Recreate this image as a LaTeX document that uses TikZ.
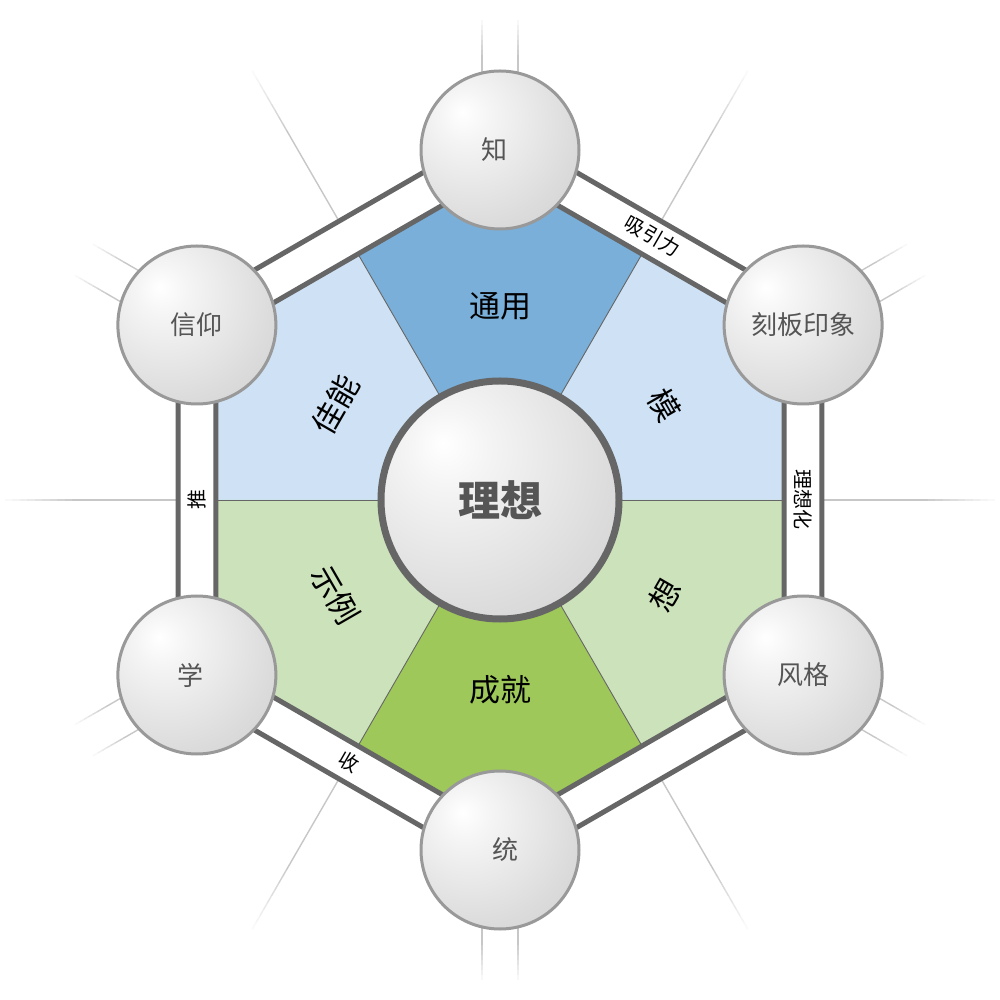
\documentclass[tikz,border=0pt]{standalone}
\usepackage{fontspec}
\newfontfamily\cjk{Noto Sans CJK SC}
\definecolor{hexline}{RGB}{102,102,102}
\definecolor{dkblue}{RGB}{122,175,217}
\definecolor{ltblue}{RGB}{207,226,245}
\definecolor{ltgreen}{RGB}{204,226,186}
\definecolor{dkgreen}{RGB}{158,200,90}
\definecolor{ringgray}{RGB}{153,153,153}
\definecolor{labgray}{RGB}{85,85,85}
\pgfdeclareradialshading{ballshade}{\pgfpoint{-12bp}{12bp}}{%
  color(0bp)=(white); color(8bp)=(black!4); color(32bp)=(black!14);
  color(50bp)=(black!20); color(68bp)=(black!26); color(100bp)=(black!26)}
\tikzset{
  ball/.style={circle, minimum size=158pt, inner sep=0pt, shading=ballshade,
    draw=ringgray, line width=3pt, font=\cjk\fontsize{26}{28}\selectfont, text=labgray},
  hub/.style={circle, minimum size=238pt, inner sep=0pt, shading=ballshade,
    draw=hexline, line width=7pt, font=\cjk\bfseries\fontsize{42}{44}\selectfont, text=labgray},
  seclabel/.style={font=\cjk\fontsize{31}{33}\selectfont, text=black, inner sep=1pt},
  bandlabel/.style={font=\cjk\fontsize{20}{22}\selectfont, text=black, inner sep=1pt},
  hexedge/.style={draw=hexline, line width=5pt, line join=miter},
  divider/.style={draw=hexline, line width=0.9pt},
}
\begin{document}
\begin{tikzpicture}[x=1pt,y=1pt]
\fill[white] (-500,-500) rectangle (500,500);
\useasboundingbox (-500,-500) rectangle (500,500);
% background rays
\foreach \a in {0,60,...,300}{
  \begin{scope}[rotate=\a]
    \draw[line width=1.4pt, black!22] (320,0) -- (420,0);
    \foreach \i in {0,...,9}{
      \pgfmathsetmacro\ra{420+\i*7.5}
      \pgfmathsetmacro\rb{\ra+7.6}
      \pgfmathsetmacro\cc{22*(1-\i/10)}
      \draw[line width=1.4pt, black!\cc] (\ra,0) -- (\rb,0);
    }
  \end{scope}
}
\foreach \a in {30,90,...,330}{
  \begin{scope}[rotate=\a]
    \foreach \s in {-18,18}{
      \draw[line width=1.4pt, black!22] (400,\s) -- (440,\s);
      \foreach \i in {0,...,7}{
        \pgfmathsetmacro\ra{440+\i*5}
        \pgfmathsetmacro\rb{\ra+5.1}
        \pgfmathsetmacro\cc{22*(1-\i/8)}
        \draw[line width=1.4pt, black!\cc] (\ra,\s) -- (\rb,\s);
      }
    }
  \end{scope}
}
% sectors
\fill[ltblue]  (0,0) -- (0:284)   -- (30:327.95)  -- (60:284)  -- cycle;
\fill[dkblue]  (0,0) -- (60:284)  -- (90:327.95)  -- (120:284) -- cycle;
\fill[ltblue]  (0,0) -- (120:284) -- (150:327.95) -- (180:284) -- cycle;
\fill[ltgreen] (0,0) -- (180:284) -- (210:327.95) -- (240:284) -- cycle;
\fill[dkgreen] (0,0) -- (240:284) -- (270:327.95) -- (300:284) -- cycle;
\fill[ltgreen] (0,0) -- (300:284) -- (330:327.95) -- (360:284) -- cycle;
\foreach \a in {0,60,...,300}{\draw[divider] (0,0) -- (\a:284);}
% hexagon band
\draw[hexedge] (30:327.95) \foreach \a in {90,150,...,330}{ -- (\a:327.95)} -- cycle;
\draw[hexedge] (30:371.8) \foreach \a in {90,150,...,330}{ -- (\a:371.8)} -- cycle;
% hub and balls
\node[hub] (hub) at (0,0) {理想};
\node[ball] (zhi)  at (90:350)  {\hspace*{-12pt}知};
\node[ball] (kb)   at (30:350)  {刻板印象};
\node[ball] (fg)   at (-30:350) {风格};
\node[ball] (tong) at (-90:350) {\hspace*{10pt}统};
\node[ball] (xue)  at (-150:350) {\hspace*{-12pt}学};
\node[ball] (xy)   at (150:350) {信仰};
% sector labels
\node[seclabel, rotate=-60] (s1) at (30:190)  {模};
\node[seclabel]             (s2) at (90:194)  {通用};
\node[seclabel, rotate=60]  (s3) at (150:190) {佳能};
\node[seclabel, rotate=-60] (s4) at (210:190) {示例};
\node[seclabel]             (s5) at (270:190) {成就};
\node[seclabel, rotate=60]  (s6) at (330:190) {想};
% band labels
\node[bandlabel, rotate=-30] (b1) at (60:305)  {吸引力};
\node[bandlabel, rotate=-90] (b2) at (0:303)   {理想化};
\node[bandlabel, rotate=90]  (b3) at (180:303) {推};
\node[bandlabel, rotate=-30] (b4) at (240:303) {收};
\end{tikzpicture}
\end{document}
